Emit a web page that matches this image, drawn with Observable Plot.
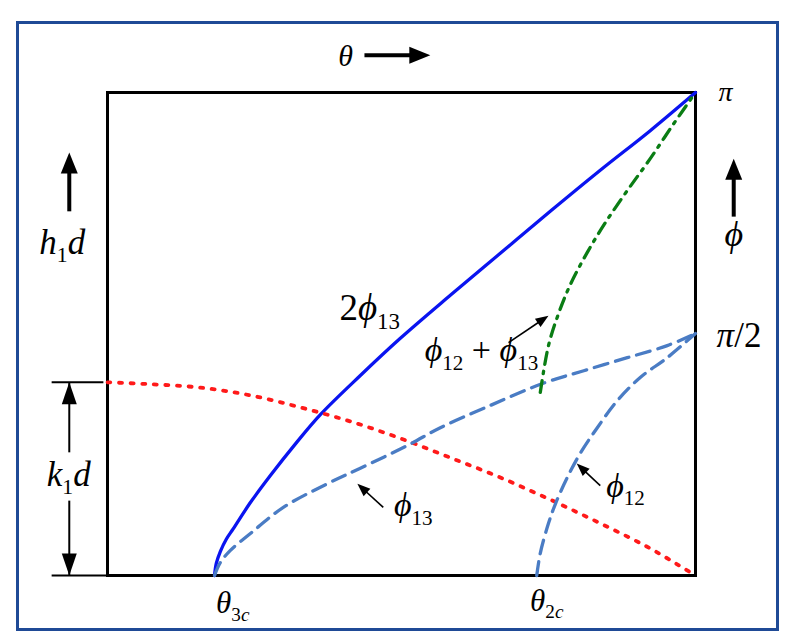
<!DOCTYPE html>
<html><head><meta charset="utf-8">
<script src="https://cdn.jsdelivr.net/npm/d3@7"></script>
<script src="https://cdn.jsdelivr.net/npm/@observablehq/plot@0.6"></script>
<style>
html,body{margin:0;padding:0;background:#fff;}
#wrap{position:relative;width:800px;height:634px;overflow:hidden;}
#border{position:absolute;left:16px;top:21px;width:757px;height:604px;border:3px solid #1f4a96;pointer-events:none;}
svg text, svg tspan{white-space:pre;font-family:"Liberation Serif","DejaVu Serif",serif !important;}
</style></head><body><div id="wrap"><div id="border"></div></div>
<script>
// x: θ as fraction of the plotted range, y: ϕ in units of π (k1d on same axis)
const twoPhi13X = [0.182,0.185,0.192,0.202,0.214,0.243,0.277,0.320,0.362,0.430,0.498,0.583,0.668,0.753,0.838,0.923,1.0];
const twoPhi13Y = [0,0.025,0.050,0.075,0.097,0.151,0.207,0.273,0.333,0.414,0.491,0.580,0.667,0.754,0.839,0.921,1.0];
const phi13X = [0.182,0.192,0.209,0.243,0.299,0.374,0.430,0.510,0.566,0.651,0.741,0.810,0.884,0.952,1.0];
const phi13Y = [0,0.027,0.052,0.087,0.141,0.190,0.222,0.269,0.306,0.352,0.398,0.424,0.451,0.476,0.501];
const phi12X = [0.730,0.736,0.750,0.762,0.782,0.804,0.833,0.867,0.906,0.952,1.0];
const phi12Y = [0,0.046,0.108,0.149,0.203,0.253,0.306,0.362,0.410,0.451,0.501];
const sumX = [0.736,0.750,0.767,0.787,0.816,0.847,0.884,0.923,0.961,1.0];
const sumY = [0.379,0.476,0.542,0.602,0.669,0.731,0.797,0.863,0.932,1.0];
const k1dX = [0,0.073,0.158,0.243,0.328,0.413,0.498,0.583,0.668,0.753,0.838,0.923,1.0];
const k1dY = [0.400,0.396,0.389,0.373,0.348,0.319,0.284,0.244,0.203,0.157,0.108,0.056,0];

// annotation texts ([..] italic, _{..} subscript)
const labelText = ["[θ]","[h]_{1}[d]","[ϕ]","[π]","[π]/2","[k]_{1}[d]","[θ]_{3[c]}","[θ]_{2[c]}","2[ϕ]_{13}","[ϕ]_{12} + [ϕ]_{13}","[ϕ]_{13}","[ϕ]_{12}"];
const labelX = [0.405,-0.077,1.065,1.051,1.074,-0.066,0.213,0.747,0.446,0.636,0.520,0.881];
const labelY = [1.075,0.689,0.706,1.0,0.497,0.209,-0.058,-0.052,0.553,0.466,0.145,0.186];
const labelSize = [30,35,36,28,35,35,31,31,37,34,34,34];

// annotation arrows: from -> tip
const bigArrowFrom = [[0.437,1.077],[-0.065,0.754],[1.065,0.743]];
const bigArrowTip  = [[0.549,1.077],[-0.065,0.876],[1.065,0.863]];
const smallArrowFrom = [[0.469,0.141],[0.838,0.186],[0.682,0.482]];
const smallArrowTip  = [[0.425,0.190],[0.798,0.232],[0.750,0.538]];
const dimArrowFrom = [[-0.065,0.255],[-0.065,0.155]];
const dimArrowTip  = [[-0.065,0.400],[-0.065,0]];
const dimTickY = [0.400, 0];
const dimTickX1 = -0.095, dimTickX2 = [-0.007, 0];

const W = 800, H = 634, mL = 107, mR = 105, mT = 92, mB = 59;
const pw = W - mL - mR, ph = H - mT - mB;
const serif = "'Liberation Serif', 'DejaVu Serif', serif";

const rows = (xs, ys) => xs.map((x, i) => ({x, y: ys[i]}));
const head = (L, Wd) => ({draw(ctx) { ctx.moveTo(0, 0); ctx.lineTo(-Wd / 2, L); ctx.lineTo(Wd / 2, L); ctx.closePath(); }});
function arrows(from, tip, L) {
  return from.map((f, i) => {
    const t = tip[i];
    const dx = (t[0] - f[0]) * pw, dy = (t[1] - f[1]) * ph;
    const len = Math.hypot(dx, dy);
    const back = L * 0.6;
    return {x1: f[0], y1: f[1], x2: t[0] - dx / len * back / pw, y2: t[1] - dy / len * back / ph,
            tx: t[0], ty: t[1], rot: Math.atan2(dx, dy) * 180 / Math.PI};
  });
}
const big = arrows(bigArrowFrom, bigArrowTip, 21);
const small = arrows(smallArrowFrom, smallArrowTip, 13);
const dim = arrows(dimArrowFrom, dimArrowTip, 22).map(a => ({...a, x2: a.tx, y2: a.ty}));
const labels = labelText.map((t, i) => ({t, x: labelX[i], y: labelY[i], s: labelSize[i]}));
const ticks = dimTickY.map((y, i) => ({x1: dimTickX1, x2: dimTickX2[i], y}));

const lineOpts = {x: "x", y: "y", strokeWidth: 3.3, curve: "catmull-rom"};
const plot = Plot.plot({
  width: W, height: H, marginLeft: mL, marginRight: mR, marginTop: mT, marginBottom: mB,
  x: {domain: [0, 1], axis: null},
  y: {domain: [0, 1], axis: null},
  style: {fontFamily: serif, background: "transparent", overflow: "visible"},
  marks: [
    Plot.link(ticks, {x1: "x1", x2: "x2", y1: "y", y2: "y", stroke: "black", strokeWidth: 2}),
    Plot.frame({stroke: "black", strokeWidth: 3}),
    Plot.line(rows(twoPhi13X, twoPhi13Y), {...lineOpts, stroke: "#0a14f0"}),
    Plot.line(rows(k1dX, k1dY), {...lineOpts, stroke: "#ff1a1a", strokeWidth: 3.8, strokeLinecap: "round", strokeDasharray: "3,8.6"}),
    Plot.line(rows(phi13X, phi13Y), {...lineOpts, stroke: "#4a7cc4", strokeDasharray: "14,8"}),
    Plot.line(rows(phi12X, phi12Y), {...lineOpts, stroke: "#4a7cc4", strokeDasharray: "14,8"}),
    Plot.line(rows(sumX, sumY), {...lineOpts, stroke: "#0a7d14", strokeDasharray: "12,7,2.5,7"}),
    Plot.link(big, {x1: "x1", y1: "y1", x2: "x2", y2: "y2", stroke: "black", strokeWidth: 4}),
    Plot.dot(big, {x: "tx", y: "ty", rotate: "rot", symbol: head(21, 17), fill: "black", stroke: "none", r: 5}),
    Plot.link(small, {x1: "x1", y1: "y1", x2: "x2", y2: "y2", stroke: "black", strokeWidth: 1.6}),
    Plot.dot(small, {x: "tx", y: "ty", rotate: "rot", symbol: head(13, 10), fill: "black", stroke: "none", r: 5}),
    Plot.link(dim, {x1: "x1", y1: "y1", x2: "x2", y2: "y2", stroke: "black", strokeWidth: 2}),
    Plot.dot(dim, {x: "tx", y: "ty", rotate: "rot", symbol: head(22, 15), fill: "black", stroke: "none", r: 5}),
    Plot.text(labels, {x: "x", y: "y", text: "t", fontSize: "s", fontFamily: serif, fill: "black", textAnchor: "middle"})
  ]
});
document.getElementById("wrap").prepend(plot);

function parse(str, sub, out) {
  let italic = false, i = 0;
  while (i < str.length) {
    const c = str[i];
    if (c === "[") { italic = true; i++; continue; }
    if (c === "]") { italic = false; i++; continue; }
    if (c === "_" && str[i + 1] === "{") {
      let depth = 0, j = i + 1;
      for (; j < str.length; j++) { if (str[j] === "{") depth++; else if (str[j] === "}") { depth--; if (!depth) break; } }
      parse(str.slice(i + 2, j), true, out);
      i = j + 1; continue;
    }
    const last = out[out.length - 1];
    if (last && last.italic === italic && last.sub === sub) last.text += c;
    else out.push({text: c, italic, sub});
    i++;
  }
  return out;
}
plot.querySelectorAll("text").forEach(t => {
  const s = t.textContent;
  if (!/[\[_]/.test(s)) return;
  const fs = parseFloat(getComputedStyle(t).fontSize) || 32;
  const segs = parse(s, false, []);
  t.textContent = "";
  let prevSub = false;
  for (const g of segs) {
    const ts = document.createElementNS("http://www.w3.org/2000/svg", "tspan");
    ts.textContent = g.text;
    ts.setAttribute("font-style", g.italic ? "italic" : "normal");
    ts.setAttribute("font-family", serif);
    if (g.sub) ts.setAttribute("font-size", (fs * 0.62).toFixed(1));
    if (g.sub && !prevSub) ts.setAttribute("dy", (fs * 0.24).toFixed(1));
    if (!g.sub && prevSub) ts.setAttribute("dy", (-fs * 0.24).toFixed(1));
    prevSub = g.sub;
    t.appendChild(ts);
  }
});
</script>
</body></html>
